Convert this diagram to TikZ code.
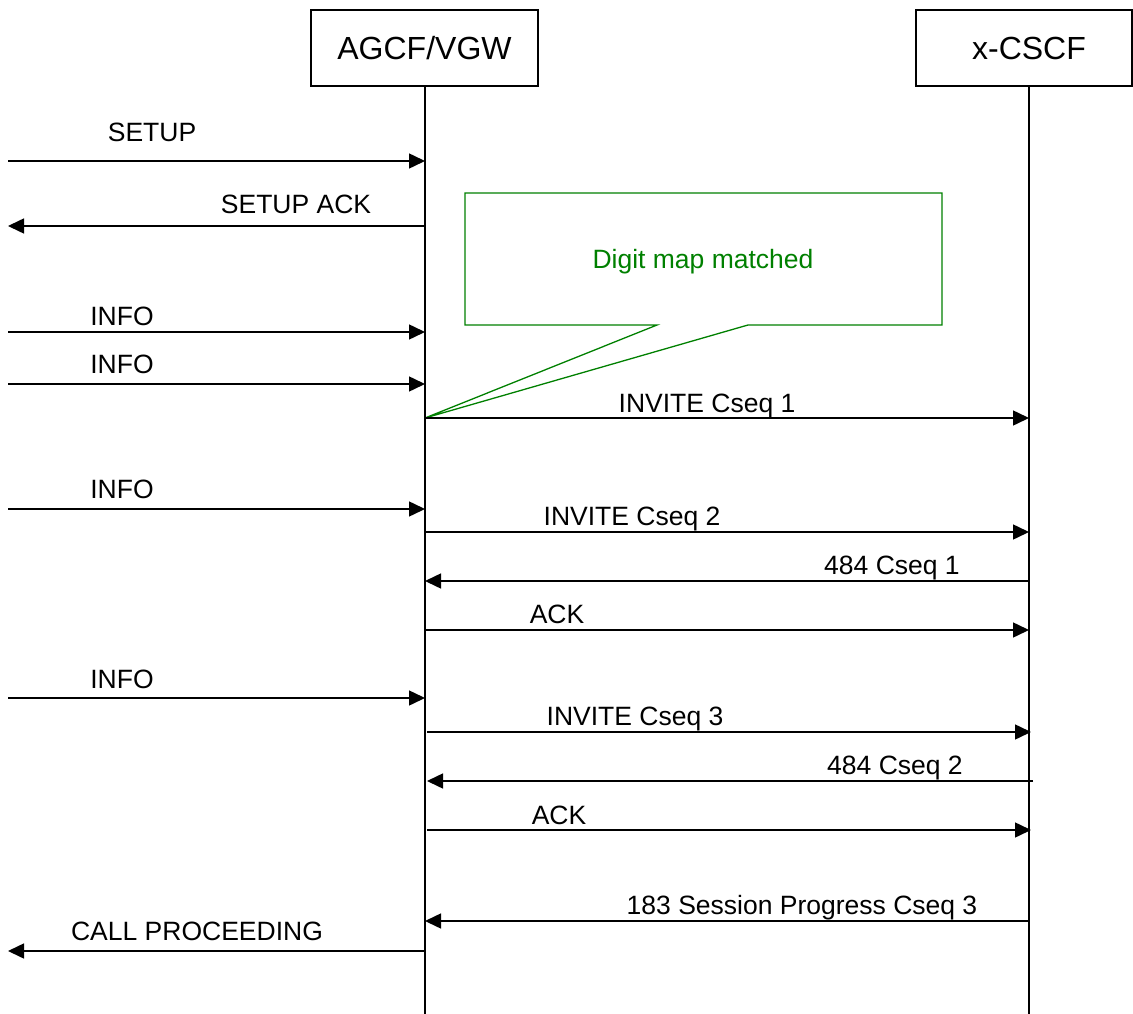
\documentclass[tikz,border=0pt]{standalone}
\usepackage{fontspec}
\setmainfont{Liberation Sans}
\usetikzlibrary{arrows.meta,calc}
\definecolor{callgreen}{RGB}{0,128,0}
\tikzset{
  x=1pt,y=-1pt,
  entity/.style={draw,line width=1.3pt,minimum height=76pt,inner sep=0pt,font=\fontsize{32}{38}\selectfont},
  life/.style={line width=1.3pt},
  msg/.style={line width=1.5pt,-{Triangle[length=16pt,width=15pt]}},
  lbl/.style={anchor=base,inner sep=0pt,font=\fontsize{26.5}{31}\selectfont},
  callout/.style={draw=callgreen,line width=1.3pt},
}
\begin{document}
\begin{tikzpicture}
\useasboundingbox (0,0) rectangle (1133,1014);
% entities
\node[entity,minimum width=227pt] (A) at (424.5,48) {AGCF/VGW};
\node[entity,minimum width=216pt] (X) at (1024,48) {\hspace{10pt}x-CSCF};
\coordinate (Aend) at (425,1014);
\coordinate (Xend) at (1029,1014);
\coordinate (Atop) at (425,86);
\coordinate (Xtop) at (1029,86);
\draw[life] (Atop) -- (Aend);
\draw[life] (Xtop) -- (Xend);
% callout
\coordinate (c1) at (465,193);
\coordinate (c2) at (942,193);
\coordinate (c3) at (942,325);
\coordinate (c4) at (748,325);
\coordinate (tip) at (425,418);
\coordinate (c5) at (657,325);
\coordinate (c6) at (465,325);
\draw[callout] (c1) -- (c2) -- (c3) -- (c4) -- (tip) -- (c5) -- (c6) -- cycle;
\node[lbl,text=callgreen] (dm) at (703,268) {Digit map matched};
% message end points
\coordinate (L1) at (8,161);   \coordinate (A1) at (425,161);
\coordinate (A2) at (425,226); \coordinate (L2) at (8,226);
\coordinate (L3) at (8,332);   \coordinate (A3) at (425,332);
\coordinate (L4) at (8,384);   \coordinate (A4) at (425,384);
\coordinate (A5) at (425,418); \coordinate (X5) at (1029,418);
\coordinate (L6) at (8,509);   \coordinate (A6) at (425,509);
\coordinate (A7) at (425,532); \coordinate (X7) at (1029,532);
\coordinate (X8) at (1029,581); \coordinate (A8) at (425,581);
\coordinate (A9) at (425,630); \coordinate (X9) at (1029,630);
\coordinate (L10) at (8,698);  \coordinate (A10) at (425,698);
\coordinate (A11) at (427,732); \coordinate (X11) at (1031,732);
\coordinate (X12) at (1033,781); \coordinate (A12) at (427,781);
\coordinate (A13) at (427,830); \coordinate (X13) at (1031,830);
\coordinate (X14) at (1029,921); \coordinate (A14) at (425,921);
\coordinate (A15) at (425,951); \coordinate (L15) at (8,951);
% messages
\draw[msg] (L1) -- (A1);  \node[lbl] (t1) at (152,142) {SETUP};
\draw[msg] (A2) -- (L2);  \node[lbl] (t2) at (296,214) {SETUP ACK};
\draw[msg] (L3) -- (A3);  \node[lbl] (t3) at (122,325) {INFO};
\draw[msg] (L4) -- (A4);  \node[lbl] (t4) at (122,373) {INFO};
\draw[msg] (A5) -- (X5);  \node[lbl] (t5) at (707,412) {INVITE Cseq 1};
\draw[msg] (L6) -- (A6);  \node[lbl] (t6) at (122,498) {INFO};
\draw[msg] (A7) -- (X7);  \node[lbl] (t7) at (632,525) {INVITE Cseq 2};
\draw[msg] (X8) -- (A8);  \node[lbl] (t8) at (892,574) {484 Cseq 1};
\draw[msg] (A9) -- (X9);  \node[lbl] (t9) at (557,623) {ACK};
\draw[msg] (L10) -- (A10); \node[lbl] (t10) at (122,688) {INFO};
\draw[msg] (A11) -- (X11); \node[lbl] (t11) at (635,725) {INVITE Cseq 3};
\draw[msg] (X12) -- (A12); \node[lbl] (t12) at (895,774) {484 Cseq 2};
\draw[msg] (A13) -- (X13); \node[lbl] (t13) at (559,824) {ACK};
\draw[msg] (X14) -- (A14); \node[lbl] (t14) at (802,914) {183 Session Progress Cseq 3};
\draw[msg] (A15) -- (L15); \node[lbl] (t15) at (197,940) {CALL PROCEEDING};
\end{tikzpicture}
\end{document}
